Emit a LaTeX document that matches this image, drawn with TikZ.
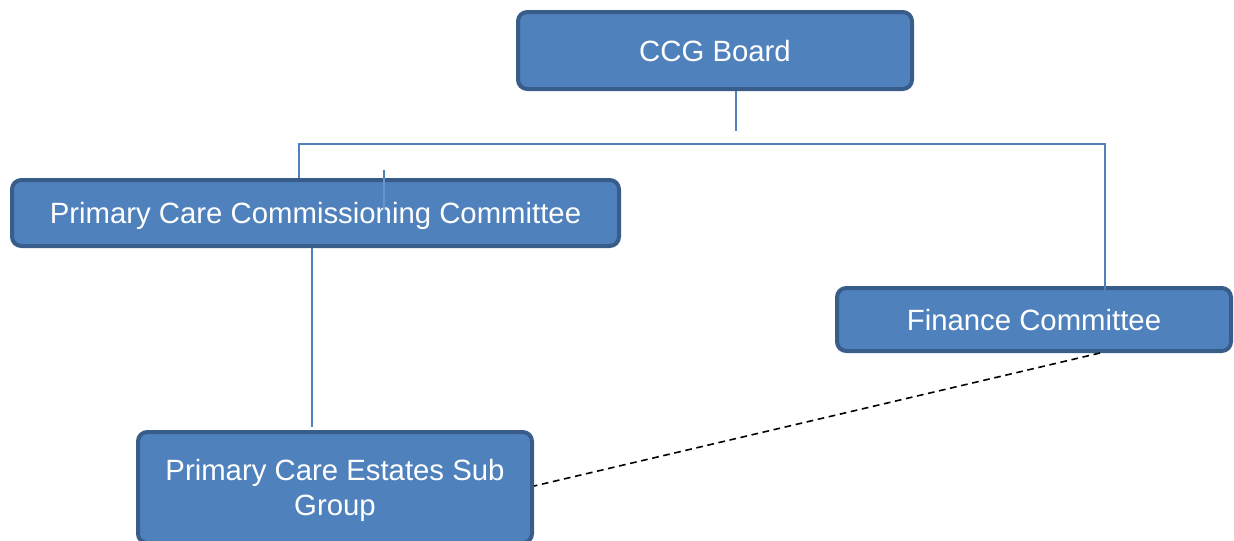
\documentclass[tikz,border=0pt]{standalone}
\usepackage{fontspec}
\setmainfont{Liberation Sans}
\usetikzlibrary{calc}
\definecolor{boxfill}{HTML}{4F81BD}
\definecolor{boxedge}{HTML}{385D8A}
\definecolor{linkblue}{HTML}{4F81BD}
\definecolor{linklight}{HTML}{6A95CC}
\begin{document}
\begin{tikzpicture}[x=0.75pt,y=-0.75pt,
  orgbox/.style={draw=boxedge, fill=boxfill, line width=3pt, rounded corners=7pt,
    text=white, font=\fontsize{22}{26}\selectfont, align=center, inner sep=0pt,
    text depth=0pt},
  link/.style={draw=linkblue, line width=1.4pt},
  dotted link/.style={draw=black, line width=1.2pt, dash pattern=on 5pt off 3.5pt}]
\useasboundingbox (0,0) rectangle (1234,540);

% junction points of the tree lines
\coordinate (j1) at (736,131);
\coordinate (hl) at (299,144);
\coordinate (hr) at (1105,144);
\coordinate (finend) at (1105,297);
\coordinate (stubtop) at (384,170);
\coordinate (stubend) at (384,209);
\coordinate (down) at (312,427);
\coordinate (dashstart) at (1100,353);

% boxes
\node[orgbox, minimum width=295.5pt, minimum height=57.75pt] (ccg) at (715,50.5) {CCG Board};
\node[orgbox, minimum width=455.25pt, minimum height=49.5pt] (pcc) at (315.5,213) {Primary Care Commissioning Committee};
\node[orgbox, minimum width=295.5pt, minimum height=47.25pt] (fin) at (1034,319.5) {Finance Committee};
\node[orgbox, minimum width=295.5pt, minimum height=83.25pt] (est) at (335,487.5) {Primary Care Estates Sub\\Group};

% reporting lines
\draw[link] (ccg.south -| j1) -- (j1);
\draw[link] (pcc.north -| hl) -- (hl) -- (hr) -- (finend);
\draw[link] (pcc.south -| down) -- (down);
\draw[link] (stubtop) -- (pcc.north -| stubtop);
\draw[draw=linklight, line width=1.2pt] (pcc.north -| stubtop) -- (stubend);

% dotted relationship
\draw[dotted link] (dashstart) -- (est.east |- 0,486);
\end{tikzpicture}
\end{document}
